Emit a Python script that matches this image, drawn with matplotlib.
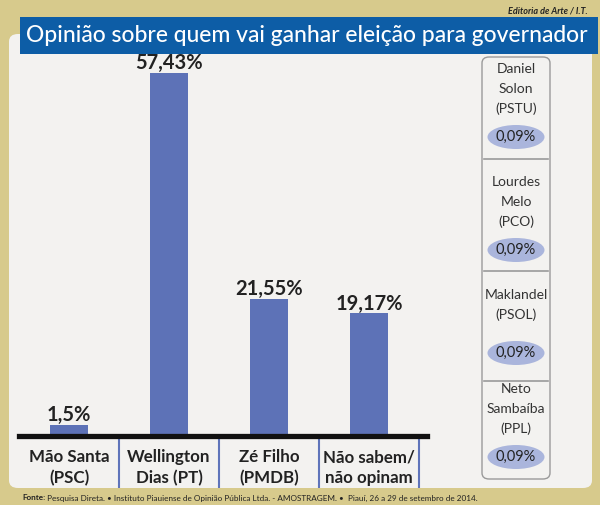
import matplotlib
matplotlib.use("Agg")
import matplotlib.pyplot as plt
from matplotlib.patches import FancyBboxPatch, Rectangle, Ellipse

# data
categories = ["Mão Santa\n(PSC)", "Wellington\nDias (PT)", "Zé Filho\n(PMDB)", "Não sabem/\nnão opinam"]
values = [1.5, 57.43, 21.55, 19.17]
value_labels = ["1,5%", "57,43%", "21,55%", "19,17%"]

others = ["Daniel\nSolon\n(PSTU)", "Lourdes\nMelo\n(PCO)", "Maklandel\n(PSOL)", "Neto\nSambaíba\n(PPL)"]
others_values = [0.09, 0.09, 0.09, 0.09]

title = "Opinião sobre quem vai ganhar eleição para governador"
credit = "Editoria de Arte / I.T."
source_bold = "Fonte:"
source_text = (" Pesquisa Direta. • Instituto Piauiense de Opinião Pública Ltda. - AMOSTRAGEM. •"
               "  Piauí, 26 a 29 de setembro de 2014.")

GOLD = "#d7ca8c"
PANEL = "#f3f2f0"
BLUE_BANNER = "#0d5da6"
BAR = "#5d72b7"
ELLIPSE = "#aab5dc"
FONT = ["Lato", "DejaVu Sans"]

W, H = 600, 505
fig = plt.figure(figsize=(W / 100, H / 100), dpi=100, facecolor=GOLD)


def fx(x):
    return x / W


def fy(y):
    return 1 - y / H


def fit_width(txt, target_px):
    # shrink/grow a text so that it spans target_px pixels
    r = fig.canvas.get_renderer()
    w = txt.get_window_extent(r).width
    txt.set_fontsize(txt.get_fontsize() * target_px / w)


# background panel + banner
fig.patches.append(FancyBboxPatch((fx(9), fy(488)), fx(583), (488 - 34) / H,
                                  boxstyle="round,pad=0,rounding_size=0.015",
                                  transform=fig.transFigure, fc=PANEL, ec="none", zorder=-2))
fig.patches.append(Rectangle((fx(20), fy(54)), fx(578), 37 / H, transform=fig.transFigure,
                             fc=BLUE_BANNER, ec="none", zorder=-1))
t = fig.text(fx(307), fy(35), title, color="white", fontsize=20, family=FONT,
             weight="medium", ha="center", va="center", zorder=2)
fit_width(t, 562)
fig.text(fx(588), fy(11), credit, fontsize=6.5, style="italic", weight="bold",
         family=FONT, ha="right", va="center", color="#222222")
fb = fig.text(fx(22), fy(498), source_bold, fontsize=5.9, weight="bold", family=FONT,
              ha="left", va="center", color="#222222")
bw = fb.get_window_extent(fig.canvas.get_renderer()).width
fig.text(fx(22 + bw), fy(498), source_text, fontsize=5.9, family=FONT,
         ha="left", va="center", color="#222222")

# bar chart
px_per_unit = 100.0
px_per_pct = 6.286
left, right, bottom, top = 19, 427, 434, 58
ax = fig.add_axes([fx(left), fy(bottom), (right - left) / W, (bottom - top) / H])
ax.set_zorder(1)
ax.set_facecolor("none")
ax.set_xlim(0, (right - left) / px_per_unit)
ax.set_ylim(0, (bottom - top) / px_per_pct)
xs = [i + 0.5 for i in range(len(values))]
ax.bar(xs, values, width=38 / px_per_unit, color=BAR, zorder=2)
for x, v, lab in zip(xs, values, value_labels):
    ax.annotate(lab, (x, v), xytext=(0, 0), textcoords="offset points", ha="center",
                va="bottom", fontsize=14.5, weight="bold", family=FONT, color="#222222")
ax.axhline(-2.3 / px_per_pct, color="#111111", lw=3.8, zorder=3, clip_on=False)
for i in range(len(values)):
    ax.vlines(i + 1, -(488 - bottom) / px_per_pct, 0, color="#5f74ba", lw=1.5, clip_on=False)
    ax.text(xs[i], -(467.5 - bottom) / px_per_pct, categories[i], ha="center", va="center",
            fontsize=12.2, weight="bold", family=FONT, color="#222222",
            linespacing=1.35)
for s in ax.spines.values():
    s.set_visible(False)
ax.set_xticks([])
ax.set_yticks([])

# right-hand box with the minor candidates
bx0, bx1 = 482, 550
dividers = [159, 271, 381]
ellipse_y = [137, 250, 353, 457]
fig.patches.append(FancyBboxPatch((fx(bx0), fy(479)), (bx1 - bx0) / W, (479 - 57) / H,
                                  boxstyle="round,pad=0,rounding_size=0.012",
                                  transform=fig.transFigure, fc=PANEL, ec="#9a9a9a",
                                  lw=1.0, zorder=1))
for y in dividers:
    fig.lines.append(plt.Line2D([fx(bx0 + 2), fx(bx1 - 2)], [fy(y), fy(y)],
                                transform=fig.transFigure, color="#9a9a9a", lw=1.2))
cx = (bx0 + bx1) / 2
for name, val, ey in zip(others, others_values, ellipse_y):
    fig.text(fx(cx), fy(ey - 48), name, ha="center", va="center", fontsize=10,
             family=FONT, color="#333333", linespacing=1.8)
    fig.patches.append(Ellipse((fx(cx), fy(ey)), 57 / W, 24 / H, transform=fig.transFigure,
                               fc=ELLIPSE, ec="none", zorder=2))
    fig.text(fx(cx), fy(ey), f"{val:.2f}%".replace(".", ","), ha="center", va="center",
             fontsize=10.5, family=FONT, color="#222222", zorder=3)

fig.savefig("out.png", dpi=100, facecolor=GOLD)
